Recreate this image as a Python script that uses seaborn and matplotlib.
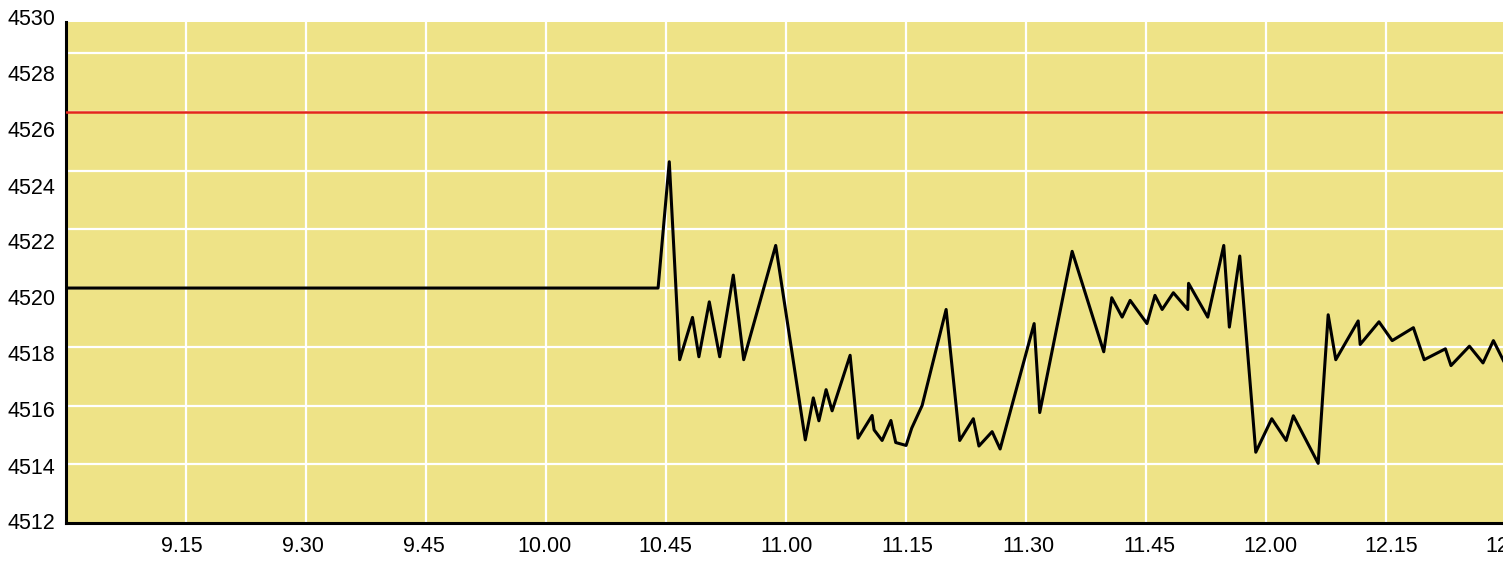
import numpy as np
import matplotlib.pyplot as plt
import seaborn as sns
import pandas as pd

# price line, x in minutes of the session axis (15 per tick), y in points
minutes = [0, 74.0, 75.4, 76.7, 78.3, 79.1, 80.4, 81.7, 83.4, 84.7, 88.7,
           92.4, 93.4, 94.1, 95.0, 95.75, 98.0, 99.0, 100.75, 101.0, 102.0,
           103.1, 103.7, 105.0, 105.7, 107.0, 110.0, 111.7, 113.4, 114.1, 115.75,
           116.75, 121.0, 121.7, 125.75, 129.7, 130.7, 132.0, 133.0, 135.1, 136.1,
           137.0, 138.4, 140.2, 140.3, 142.7, 144.7, 145.4, 146.7, 148.7, 150.7,
           152.5, 153.4, 156.5, 157.75, 158.7, 161.5, 161.75, 164.1, 165.75, 168.4,
           169.75, 172.4, 173.1, 175.4, 177.1, 178.4, 179.8]
price = [4520.0, 4520.0, 4524.3, 4517.56, 4519.0, 4517.66, 4519.53, 4517.66, 4520.44, 4517.56, 4521.45,
         4514.83, 4516.26, 4515.48, 4516.54, 4515.82, 4517.71, 4514.89, 4515.66, 4515.17, 4514.81,
         4515.49, 4514.74, 4514.64, 4515.23, 4516.0, 4519.27, 4514.81, 4515.55, 4514.62, 4515.11,
         4514.52, 4518.79, 4515.76, 4521.25, 4517.83, 4519.67, 4519.01, 4519.58, 4518.79, 4519.75,
         4519.27, 4519.84, 4519.27, 4520.16, 4519.01, 4521.45, 4518.67, 4521.09, 4514.41, 4515.55,
         4514.81, 4515.65, 4514.03, 4519.09, 4517.56, 4518.88, 4518.08, 4518.85, 4518.21, 4518.65,
         4517.56, 4517.93, 4517.36, 4518.02, 4517.45, 4518.21, 4517.45]
ref_level = 4526.0

time_labels = ['9.15', '9.30', '9.45', '10.00', '10.45', '11.00', '11.15',
               '11.30', '11.45', '12.00', '12.15', '12.30']
price_labels = ['4512', '4514', '4516', '4518', '4520', '4522', '4524',
                '4526', '4528', '4530']

df = pd.DataFrame({'t': minutes, 'p': price})

sns.set_style('white')
plt.rcParams['font.family'] = ['Liberation Sans', 'DejaVu Sans']

fig = plt.figure(figsize=(15.03, 5.62), dpi=100)
ax = fig.add_axes([66/1503, 39/562, 1437/1503, 501/562])
ax.set_facecolor('#eee387')

ax.set_xlim(0, 179.6)
ax.set_ylim(4512, 4512 + 501/29.37)

# grid lines (white) at the true scale positions
ax.set_xticks(np.arange(15, 180, 15))
ax.set_yticks(np.arange(4514, 4529, 2))
ax.tick_params(length=0, labelbottom=False, labelleft=False)
ax.grid(True, color='white', linewidth=1.6)
ax.set_axisbelow(True)

ax.axhline(ref_level, color='#e3261b', linewidth=1.8, zorder=3)
sns.lineplot(data=df, x='t', y='p', color='black', linewidth=2.2,
             ax=ax, zorder=4, sort=False)

# labels sit on a slightly different spacing than the grid
for k, lab in enumerate(price_labels):
     yv = 4512 + (56*k - 1)/29.37
     ax.text(-11/1437, yv, lab, transform=ax.get_yaxis_transform(),
             ha='right', va='center', fontsize=15.5, color='black', clip_on=False)
for k, lab in enumerate(time_labels):
     xv = (116 + 120.9*k)/8
     ax.text(xv, -24/501, lab, transform=ax.get_xaxis_transform(),
             ha='center', va='center', fontsize=15.5, color='black', clip_on=False)

ax.set_xlabel('')
ax.set_ylabel('')
for s in ['top', 'right']:
     ax.spines[s].set_visible(False)
for s in ['left', 'bottom']:
     ax.spines[s].set_color('black')
     ax.spines[s].set_linewidth(2.2)

fig.savefig('out.png', dpi=100)
